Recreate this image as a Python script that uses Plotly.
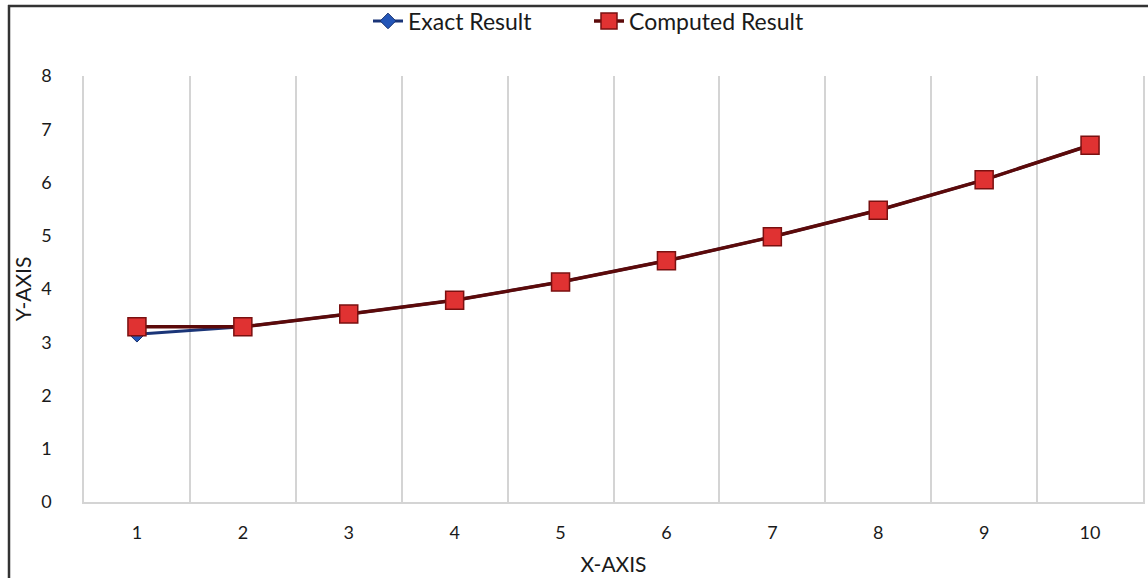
import plotly.graph_objects as go

# Category positions along the x axis
x_values = [1, 2, 3, 4, 5, 6, 7, 8, 9, 10]
x_labels = ["1", "2", "3", "4", "5", "6", "7", "8", "9", "10"]

# Series values
exact_result = [3.15, 3.29, 3.53, 3.79, 4.13, 4.53, 4.98, 5.48, 6.05, 6.70]
computed_result = [3.29, 3.29, 3.53, 3.79, 4.13, 4.53, 4.98, 5.48, 6.05, 6.70]

y_ticks = [0, 1, 2, 3, 4, 5, 6, 7, 8]

FONT = "Lato"
W, H = 1148, 578
L, R, T, B = 84, 5, 76, 76

fig = go.Figure()

fig.add_trace(go.Scatter(
    x=x_values, y=exact_result, name="Exact Result",
    mode="lines+markers",
    line=dict(color="#1a3578", width=3),
    marker=dict(symbol="diamond", size=12, color="#2456b8",
                line=dict(color="#163170", width=1)),
))

fig.add_trace(go.Scatter(
    x=x_values, y=computed_result, name="Computed Result",
    mode="lines+markers",
    line=dict(color="#5c0a0a", width=3.5),
    marker=dict(symbol="square", size=18, color="#e03232",
                line=dict(color="#7a1010", width=1.5)),
))

pw = W - L - R
ph = H - T - B


def px_x(px):
    return (px - L) / pw


def px_y(py):
    return (H - B - py) / ph


fig.update_layout(
    width=W, height=H,
    margin=dict(l=L, r=R, t=T, b=B, autoexpand=False),
    paper_bgcolor="white",
    plot_bgcolor="white",
    font=dict(family=FONT, size=18, color="#1a1a1a"),
    showlegend=True,
    legend=dict(
        orientation="h",
        xref="container", x=368 / W, xanchor="left",
        yref="container", y=1 - 21 / H, yanchor="middle",
        font=dict(family=FONT, size=23, color="#1a1a1a"),
        entrywidth=176, tracegroupgap=0,
        bgcolor="rgba(0,0,0,0)",
    ),
    xaxis=dict(
        range=[0.5, 10.5],
        tickmode="array", tickvals=x_values, ticktext=x_labels,
        showgrid=False, zeroline=False,
        showline=True, linecolor="#d4d4d4", linewidth=1.5,
        ticks="", ticklabelstandoff=14,
        tickfont=dict(family=FONT, size=18, color="#1a1a1a"),
        minor=dict(showgrid=True, gridcolor="#d4d4d4", gridwidth=1.5,
                   tick0=0.5, dtick=1),
        title=dict(text="X-AXIS", standoff=15,
                   font=dict(family=FONT, size=21, color="#1a1a1a")),
        fixedrange=True,
    ),
    yaxis=dict(
        range=[0, 8],
        tickmode="array", tickvals=y_ticks,
        showgrid=False, zeroline=False,
        showline=True, mirror=True, linecolor="#d4d4d4", linewidth=1.5,
        ticks="", ticklabelstandoff=27,
        tickfont=dict(family=FONT, size=18, color="#1a1a1a"),
        title=dict(text="Y-AXIS", standoff=4,
                   font=dict(family=FONT, size=21, color="#1a1a1a")),
        fixedrange=True,
    ),
    shapes=[
        # outer frame: top and left edges
        dict(type="line", xref="paper", yref="paper",
             x0=px_x(8), x1=px_x(W), y0=px_y(6), y1=px_y(6),
             line=dict(color="#333333", width=2.5)),
        dict(type="line", xref="paper", yref="paper",
             x0=px_x(9), x1=px_x(9), y0=px_y(5), y1=px_y(H),
             line=dict(color="#333333", width=2.5)),
    ],
)

fig.write_html("out.html")
